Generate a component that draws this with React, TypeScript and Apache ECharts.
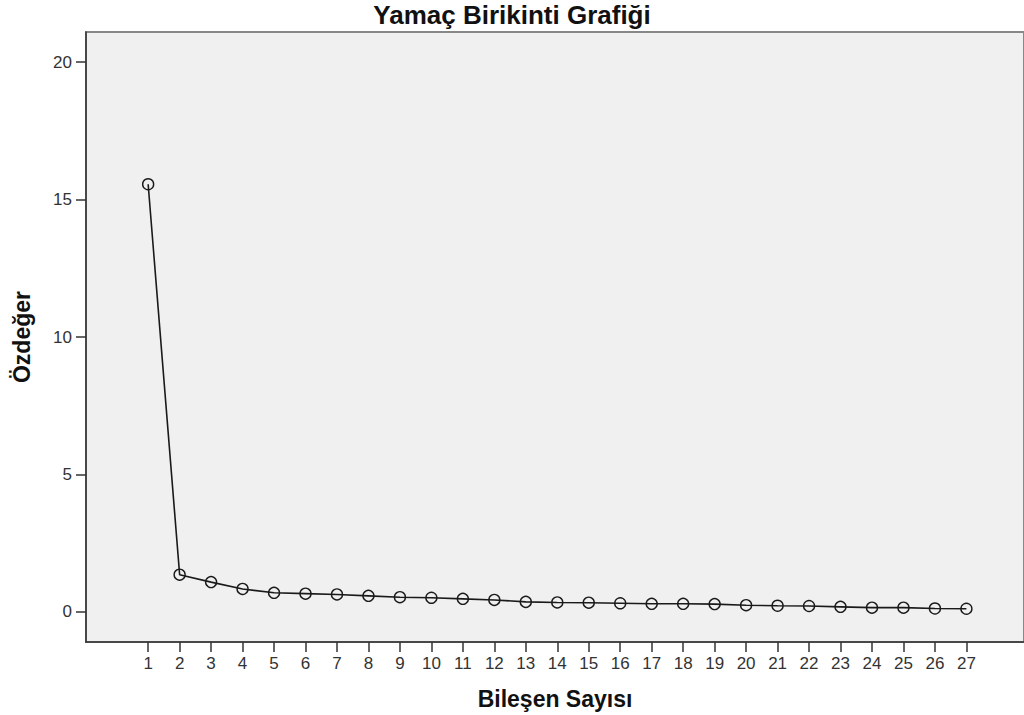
import React, { useEffect, useRef } from "react";
import * as echarts from "echarts";

const components = [1, 2, 3, 4, 5, 6, 7, 8, 9, 10, 11, 12, 13, 14, 15, 16, 17, 18, 19, 20, 21, 22, 23, 24, 25, 26, 27];
const eigenvalues = [15.56, 1.35, 1.08, 0.83, 0.69, 0.66, 0.63, 0.58, 0.53, 0.51, 0.47, 0.43, 0.36, 0.34, 0.33, 0.31, 0.29, 0.29, 0.28, 0.24, 0.22, 0.21, 0.18, 0.15, 0.15, 0.12, 0.11];
const yTicks = [0, 5, 10, 15, 20];

export default function App() {
  const ref = useRef<HTMLDivElement>(null);
  useEffect(() => {
    if (!ref.current) return;
    const chart = echarts.init(ref.current, undefined, { renderer: "svg" });
    const font = "Arial, 'Liberation Sans', sans-serif";
    chart.setOption({
      animation: false,
      backgroundColor: "#ffffff",
      title: {
        text: "Yamaç Birikinti Grafiği",
        left: "center",
        top: 2,
        padding: 0,
        textStyle: { fontFamily: font, fontSize: 26, fontWeight: "bold", color: "#111" },
      },
      grid: {
        left: 86,
        top: 32,
        right: -2,
        bottom: 73,
        show: true,
        backgroundColor: "#f0f0f0",
        borderColor: "#888",
        borderWidth: 2,
      },
      xAxis: {
        type: "value",
        min: -0.975,
        max: 28.83,
        name: "Bileşen Sayısı",
        nameLocation: "middle",
        nameGap: 45,
        nameTextStyle: { fontFamily: font, fontSize: 23, fontWeight: "bold", color: "#111" },
        splitLine: { show: false },
        axisLine: { show: true, onZero: false, lineStyle: { color: "#333", width: 1.5 } },
        axisTick: { show: true, length: 10, customValues: components, lineStyle: { color: "#333", width: 1.5 } },
        axisLabel: { customValues: components, margin: 13, fontFamily: font, fontSize: 17, color: "#333" },
      },
      yAxis: {
        type: "value",
        min: -1.1,
        max: 21.1,
        name: "Özdeğer",
        nameLocation: "middle",
        nameGap: 53,
        nameTextStyle: { fontFamily: font, fontSize: 23, fontWeight: "bold", color: "#111" },
        splitLine: { show: false },
        axisLine: { show: true, onZero: false, lineStyle: { color: "#333", width: 1.5 } },
        axisTick: { show: true, length: 10, customValues: yTicks, lineStyle: { color: "#333", width: 1.5 } },
        axisLabel: { customValues: yTicks, margin: 14, fontFamily: font, fontSize: 17, color: "#333" },
      },
      series: [
        {
          type: "line",
          data: components.map((c, i) => [c, eigenvalues[i]]),
          symbol: "circle",
          symbolSize: 11,
          lineStyle: { color: "#1a1a1a", width: 1.6 },
          itemStyle: { color: "rgba(0,0,0,0)", borderColor: "#1a1a1a", borderWidth: 1.4 },
          emphasis: { disabled: true },
        },
      ],
    });
    return () => chart.dispose();
  }, []);
  return <div ref={ref} style={{ width: 1024, height: 715, position: "absolute", left: 0, top: 0 }} />;
}
